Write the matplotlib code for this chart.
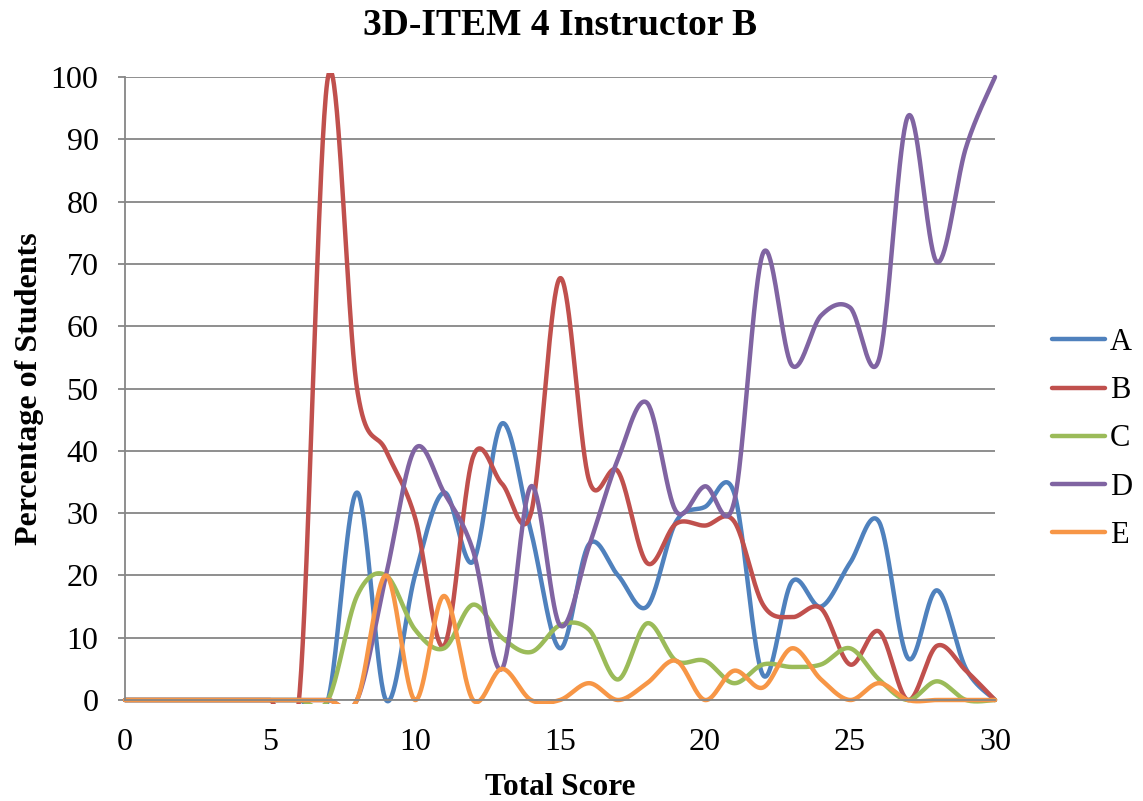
import numpy as np
import matplotlib
matplotlib.use("Agg")
import matplotlib.pyplot as plt
from matplotlib.patches import Rectangle

# Total score (x) and percentage of students choosing each option
scores = list(range(0, 31))
series_names = ["A", "B", "C", "D", "E"]

pct_A = [0, 0, 0, 0, 0, 0, 0, 0, 33.3, 0, 20, 33.3, 22.2, 44.4, 27, 8.3,
         25, 20, 15, 28.6, 31, 33.3, 4, 19, 15, 22, 28.6, 6.7, 17.6, 5, 0]
pct_B = [0, 0, 0, 0, 0, 0, 0, 100, 50, 40, 29.3, 8.7, 39, 34.7, 30, 67.7,
         35.3, 36.7, 22, 28.3, 28, 28.7, 15.3, 13.3, 14.7, 5.7, 11, 0, 8.7, 4.7, 0]
pct_C = [0, 0, 0, 0, 0, 0, 0, 0, 16.7, 20, 11.3, 8.3, 15.3, 10, 7.7, 12,
         11.3, 3.3, 12.3, 6.3, 6.3, 2.7, 5.7, 5.3, 5.7, 8.3, 3.3, 0, 3, 0, 0]
pct_D = [0, 0, 0, 0, 0, 0, 0, 0, 0, 20, 40.3, 33.3, 24, 5, 34.3, 12,
         24.7, 38.7, 47.7, 30.3, 34.3, 31.7, 71.7, 53.7, 61.7, 63, 54.7, 93.7, 70.3, 88.7, 100]
pct_E = [0, 0, 0, 0, 0, 0, 0, 0, 0, 20, 0, 16.7, 0, 5, 0, 0,
         2.7, 0, 2.7, 6.3, 0, 4.7, 2, 8.3, 3.3, 0, 2.7, 0, 0, 0, 0]

colors = ["#4F81BD", "#C0504D", "#9BBB59", "#8064A2", "#F79646"]


def smooth_curve(x, y, n=40):
    """Cubic Bezier smoothing through every point (Catmull-Rom style)."""
    x = np.asarray(x, float)
    y = np.asarray(y, float)
    px = np.concatenate([[x[0]], x, [x[-1]]])
    py = np.concatenate([[y[0]], y, [y[-1]]])
    t = np.linspace(0, 1, n)[:, None]
    xs, ys = [], []
    for i in range(len(x) - 1):
        p0 = np.array([px[i + 1], py[i + 1]])
        p3 = np.array([px[i + 2], py[i + 2]])
        c1 = p0 + (p3 - np.array([px[i], py[i]])) / 6.0
        c2 = p3 - (np.array([px[i + 3], py[i + 3]]) - p0) / 6.0
        pts = ((1 - t) ** 3) * p0 + 3 * ((1 - t) ** 2) * t * c1 \
            + 3 * (1 - t) * t ** 2 * c2 + t ** 3 * p3
        if i > 0:
            pts = pts[1:]
        xs.append(pts[:, 0])
        ys.append(pts[:, 1])
    return np.concatenate(xs), np.concatenate(ys)


plt.rcParams["font.family"] = ["Liberation Serif", "DejaVu Serif"]

fig = plt.figure(figsize=(11.43, 8.01), dpi=100)
ax = fig.add_axes([125 / 1143, 1 - 700 / 801, 870 / 1143, 623 / 801])

# plot-area clip, padded a little so lines lying on 0 or 100 keep full width
clip = Rectangle((-0.005, -0.006), 1.01, 1.012, transform=ax.transAxes,
                 fill=False, visible=False)
ax.add_patch(clip)

for name, vals, col in zip(series_names,
                           [pct_A, pct_B, pct_C, pct_D, pct_E], colors):
    sx, sy = smooth_curve(scores, vals)
    line, = ax.plot(sx, sy, color=col, lw=3.2, label=name,
                    solid_capstyle="round", solid_joinstyle="round")
    line.set_clip_path(clip)

ax.set_xlim(0, 30)
ax.set_ylim(0, 100)
ax.set_xticks(range(0, 31, 5))
ax.set_yticks(range(0, 101, 10))
ax.yaxis.grid(True, color="#868686", lw=1.3)
ax.set_axisbelow(True)
for s in ["top", "right"]:
    ax.spines[s].set_visible(False)
for s in ["left", "bottom"]:
    ax.spines[s].set_color("#868686")
    ax.spines[s].set_linewidth(1.3)
ax.tick_params(axis="y", length=5, width=1.3, color="#868686",
               labelsize=23, pad=14)
ax.tick_params(axis="x", length=0, labelsize=23, pad=20)

ax.set_title("3D-ITEM 4 Instructor B", fontsize=27, fontweight="bold", pad=30)
ax.set_xlabel("Total Score", fontsize=22.5, fontweight="bold", labelpad=12)
ax.set_ylabel("Percentage of Students", fontsize=23, fontweight="bold",
              labelpad=5)

ax.legend(loc="center left", bbox_to_anchor=(1052 / 1143, 1 - 439 / 801),
          bbox_transform=fig.transFigure, frameon=False, borderpad=0,
          borderaxespad=0, fontsize=22, handlelength=1.75, handletextpad=0.15,
          labelspacing=0.63)

fig.savefig("out.png", dpi=100)
